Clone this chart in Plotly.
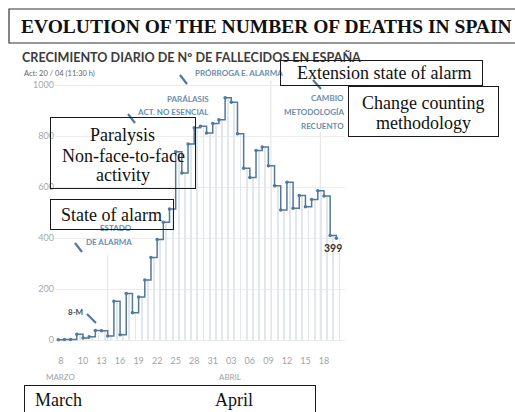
import pandas as pd
import plotly.graph_objects as go

# ---------------- data ----------------
dates = pd.date_range("2020-03-06", "2020-04-20", freq="D")
deaths = [1, 2, 2, 23, 8, 13, 37, 36, 16,
          152, 21, 182, 107, 169, 235, 324, 394,
          462, 514, 738, 655, 769, 832, 838, 812, 849,
          864, 950, 932, 809, 674, 637, 743, 757, 683, 605,
          510, 619, 517, 567, 523, 551, 585, 565, 410, 399]
tick_labels = ["8", "10", "13", "16", "19", "22", "25", "28", "31",
               "03", "06", "09", "12", "15", "18"]
tick_days = [5.4, 9, 12, 15, 18, 21, 24, 27, 30, 33, 36, 39, 42, 45, 48]
y_ticks = [0, 200, 400, 600, 800, 1000]
event_days = [13, 39.4, 47.4]
event_tops = [333, 1019, 816]

day0 = pd.Timestamp("2020-03-01")
x_day = [(d - day0).days for d in dates]

# ---------------- geometry helpers ----------------
W, H = 515, 412
L, R, T, B = 55, 170, 80, 67
PW, PH = W - L - R, H - T - B


def ax(px):
    return (px - L) / PW


def ay(py):
    return (H - B - py) / PH


LINE = "#52789a"
LABEL = "#6a8db0"
SERIF = "Liberation Serif"
SANS = "Lato"

fig = go.Figure()

# light drop lines under each day
fig.add_trace(go.Bar(
    x=[d + 0.5 for d in x_day], y=deaths, width=0.14,
    marker=dict(color="#e0e7ed", line=dict(width=0)),
    hoverinfo="skip"))

# event reference lines
for d, top in zip(event_days, event_tops):
    fig.add_shape(type="line", xref="x", yref="y", x0=d, x1=d, y0=0, y1=top,
                  line=dict(color="#e2e2e2", width=1), layer="below")

# step line
fig.add_trace(go.Scatter(
    x=x_day, y=deaths, mode="lines+markers", line_shape="hv",
    line=dict(color=LINE, width=1.5),
    marker=dict(color=LINE, size=3.5)))

fig.update_layout(
    width=W, height=H, margin=dict(l=L, r=R, t=T, b=B),
    paper_bgcolor="white", plot_bgcolor="white", showlegend=False,
    bargap=0,
    xaxis=dict(range=[4.47, 51.4], tickvals=tick_days, ticktext=tick_labels,
               showgrid=False, zeroline=False, showline=False,
               ticks="outside", ticklen=7, tickcolor="rgba(0,0,0,0)",
               tickfont=dict(family=SANS, size=9, color="#a3a3a3")),
    yaxis=dict(range=[-19.6, 1019.6], tickvals=y_ticks,
               showgrid=True, gridcolor="#ececec", gridwidth=1,
               zeroline=False, showline=False, ticks="",
               tickfont=dict(family=SANS, size=9, color="#a8a8a8")),
)

ann = []


def text(s, px, py, size, color, family=SANS, xanchor="left", bold=False):
    if bold:
        s = "<b>" + s + "</b>"
    ann.append(dict(text=s, x=ax(px), y=ay(py), xref="paper", yref="paper",
                    xanchor=xanchor, yanchor="middle", showarrow=False,
                    font=dict(family=family, size=size, color=color)))


def box(x0, y0, x1, y1):
    ann.append(dict(text=" ", x=ax(x0), y=ay(y0), xref="paper", yref="paper",
                    xanchor="left", yanchor="top", showarrow=False,
                    width=x1 - x0 - 2, height=y1 - y0 - 2, borderpad=0,
                    bordercolor="#1a1a1a", borderwidth=1,
                    bgcolor="rgba(0,0,0,0)"))


# header
fig.add_shape(type="rect", xref="paper", yref="paper",
              x0=ax(9), x1=ax(540), y0=ay(43), y1=ay(9),
              line=dict(color="#333333", width=1.2), layer="below")
text("EVOLUTION OF THE NUMBER OF DEATHS IN SPAIN", 19, 26, 19.5, "#111111",
     family=SERIF, bold=True)
text("CRECIMIENTO DIARIO DE Nº DE FALLECIDOS EN ESPAÑA", 20, 57, 12.6, "#3b3b3b", bold=True)
text("Act: 20 / 04 (11:30 h)", 22, 73, 7.5, "#666666")

# original small labels
text("PRÓRROGA E. ALARMA", 193, 73, 8, LABEL, bold=True)
text("PARÁLASIS", 211, 99, 8, LABEL, xanchor="right", bold=True)
text("ACT. NO ESENCIAL", 211, 112, 8, LABEL, xanchor="right", bold=True)
text("CAMBIO", 346, 98, 8, LABEL, xanchor="right", bold=True)
text("METODOLOGÍA", 346, 112, 8, LABEL, xanchor="right", bold=True)
text("RECUENTO", 346, 126, 8, LABEL, xanchor="right", bold=True)
text("ESTADO", 134, 228, 8, LABEL, xanchor="right", bold=True)
text("DE ALARMA", 134, 242, 8, LABEL, xanchor="right", bold=True)
text("8-M", 75, 312, 8, "#3d4d5c", xanchor="center", bold=True)
text("399", 333, 248, 10.5, "#333333", xanchor="center", bold=True)
text("MARZO", 61, 377, 8, "#a0a0a0", xanchor="center")
text("ABRIL", 230, 377, 8, "#a0a0a0", xanchor="center")

# pins
for (x0, y0, x1, y1) in [(180, 75, 187, 84), (128, 114, 135, 123),
                         (313, 80, 321, 89), (75, 243, 82, 252),
                         (87, 314, 96, 323)]:
    fig.add_shape(type="line", xref="paper", yref="paper",
                  x0=ax(x0), y0=ay(y0), x1=ax(x1), y1=ay(y1),
                  line=dict(color=LINE, width=2.2))

# overlay boxes
box(280, 60, 483, 86)
box(348, 86, 499, 137)
box(50, 117, 196, 189)
box(50, 199, 174, 230)
box(24, 385, 316, 440)

text("Extension state of alarm", 384, 73, 18, "#111111", family=SERIF, xanchor="center")
text("Change counting", 423, 103, 18, "#111111", family=SERIF, xanchor="center")
text("methodology", 423, 123, 18, "#111111", family=SERIF, xanchor="center")
text("Paralysis", 122, 135, 18, "#111111", family=SERIF, xanchor="center")
text("Non-face-to-face", 123, 156, 18, "#111111", family=SERIF, xanchor="center")
text("activity", 123, 175, 18, "#111111", family=SERIF, xanchor="center")
text("State of alarm", 111, 215, 18, "#111111", family=SERIF, xanchor="center")
text("March", 33, 400, 18, "#111111", family=SERIF)
text("April", 213, 400, 18, "#111111", family=SERIF)

fig.update_layout(annotations=ann)
fig.write_html("out.html", config={"displayModeBar": False},
               post_script="document.body.style.margin='0';"
                           "document.body.style.padding='0';")
